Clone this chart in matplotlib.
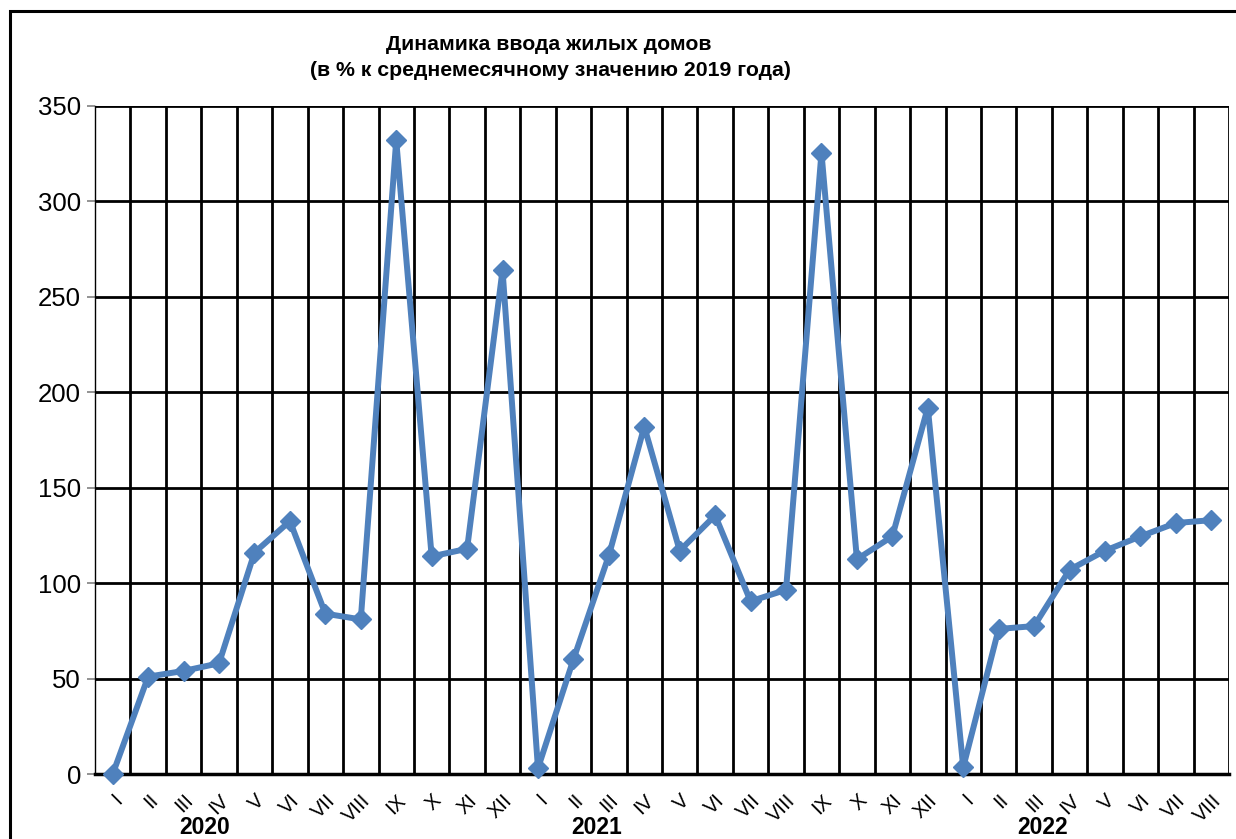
import matplotlib
matplotlib.use("Agg")
import matplotlib.pyplot as plt
from matplotlib.patches import Rectangle
from matplotlib import font_manager

months_2020 = ["I", "II", "III", "IV", "V", "VI", "VII", "VIII", "IX", "X", "XI", "XII"]
months_2021 = ["I", "II", "III", "IV", "V", "VI", "VII", "VIII", "IX", "X", "XI", "XII"]
months_2022 = ["I", "II", "III", "IV", "V", "VI", "VII", "VIII"]
values_2020 = [0, 51, 54, 58, 116, 132.5, 84, 81, 332, 114, 118, 264]
values_2021 = [3, 60, 114.5, 182, 117, 135.5, 90.5, 96.5, 325.5, 112.5, 124.5, 192]
values_2022 = [3.5, 76, 77.5, 107, 117, 124.5, 131.5, 133]
years = ["2020", "2021", "2022"]
yticks = [0, 50, 100, 150, 200, 250, 300, 350]

labels = months_2020 + months_2021 + months_2022
values = values_2020 + values_2021 + values_2022
n = len(labels)
xs = list(range(n))

names = {f.name for f in font_manager.fontManager.ttflist}
base = "Liberation Sans" if "Liberation Sans" in names else "DejaVu Sans"
plt.rcParams["font.family"] = [base, "DejaVu Sans"]

W, H = 1236, 839
fig = plt.figure(figsize=(W / 100, H / 100), dpi=100)
ax = fig.add_axes([95 / W, (H - 774) / H, (1229 - 95) / W, (774 - 106) / H])

# outer frame
fig.patches.append(Rectangle((10 / W, -0.05), 1.2, (H - 11) / H + 0.05,
                             transform=fig.transFigure, fill=False,
                             edgecolor="black", linewidth=2.2, zorder=0))

ax.set_xlim(-0.5, n - 0.5)
ax.set_ylim(0, 350)

for y in yticks:
    if y > 0:
        ax.axhline(y, color="black", linewidth=2.0, zorder=1)
for i in range(1, n + 1):
    ax.axvline(i - 0.5, color="black", linewidth=2.0, zorder=1)

ax.plot(xs, values, color="#4F81BD", linewidth=4.3, marker="D", markersize=10,
        markerfacecolor="#4F81BD", markeredgecolor="#4F81BD", zorder=3,
        clip_on=False)

for s in ["top", "right"]:
    ax.spines[s].set_visible(False)
ax.spines["left"].set_linewidth(1.0)
ax.spines["left"].set_color("black")
ax.spines["bottom"].set_linewidth(2.5)
ax.spines["bottom"].set_color("black")

ax.set_yticks(yticks)
ax.set_yticklabels([str(v) for v in yticks], fontsize=18.5)
ax.tick_params(axis="y", length=6, width=1.2, color="#808080", pad=4)
ax.set_xticks(xs)
ax.set_xticklabels(labels, fontsize=14.5, rotation=45, ha="right", va="top",
                   rotation_mode="anchor")
ax.tick_params(axis="x", length=0, pad=12)

# year labels
trans = matplotlib.transforms.blended_transform_factory(ax.transData, fig.transFigure)
year_pos = [2.6, 13.66, 26.24]
for yr, xp in zip(years, year_pos):
    ax.text(xp, (H - 828) / H, yr, transform=trans, ha="center", va="center",
            fontsize=16.5, fontweight="bold")

fig.text(549 / W, (H - 45) / H, "Динамика ввода жилых домов",
         ha="center", va="center", fontsize=15.3, fontweight="bold")
fig.text(550 / W, (H - 71) / H,
         "(в % к среднемесячному значению 2019 года)",
         ha="center", va="center", fontsize=15.3, fontweight="bold")

fig.savefig("out.png", dpi=100)
